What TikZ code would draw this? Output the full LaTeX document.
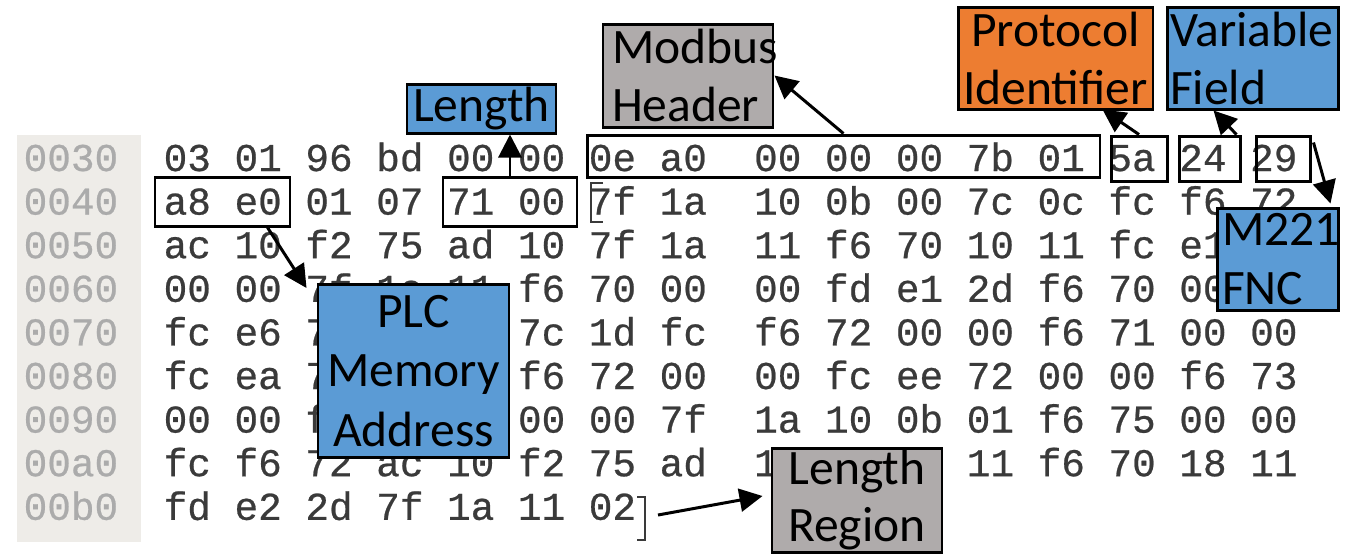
\documentclass[tikz,border=0pt]{standalone}
\usepackage{fontspec}
\usetikzlibrary{positioning,arrows.meta,calc}
\newfontfamily\hexfont[FakeBold=0.6]{Liberation Mono}
\newfontfamily\lblfont{Carlito}
\definecolor{boxblue}{HTML}{5B9BD5}
\definecolor{boxorange}{HTML}{ED7D31}
\definecolor{boxgray}{HTML}{AFABAB}
\definecolor{offsetbg}{HTML}{EEECE8}
\definecolor{hexgray}{HTML}{3A3A3A}
\definecolor{offsetgray}{HTML}{ABABAB}
\tikzset{hex row/.style={anchor=base west,inner sep=0pt,text=hexgray,font=\hexfont\fontsize{11.2}{13}\selectfont},
         offset row/.style={hex row,text=offsetgray},
         byte box/.style={draw,line width=0.85pt,inner sep=0pt},
         label node/.style={draw,line width=0.85pt,inner sep=0pt,text=black,font=\lblfont\fontsize{14.1}{16.5}\selectfont},
         pointer/.style={line width=0.85pt,-{Triangle[length=2.3mm,width=2.3mm]}},
         bracket/.style={line width=0.5pt,draw=hexgray},
            }

\begin{document}
\begin{tikzpicture}[x=0.1mm,y=-0.1mm]
    \path[use as bounding box,fill=white] (0,0) rectangle (1346,556);
    \fill[offsetbg] (17,135) rectangle (141,542);

    % offsets
    \node[offset row] (o30) at (23,171) {0030};
    \node[offset row] (o40) at (23,214.6) {0040};
    \node[offset row] (o50) at (23,258.2) {0050};
    \node[offset row] (o60) at (23,301.8) {0060};
    \node[offset row] (o70) at (23,345.4) {0070};
    \node[offset row] (o80) at (23,389) {0080};
    \node[offset row] (o90) at (23,432.6) {0090};
    \node[offset row] (oa0) at (23,476.2) {00a0};
    \node[offset row] (ob0) at (23,519.8) {00b0};

    % hex bytes
    \node[hex row] (r30) at (163,171) {03 01 96 bd 00 00 0e a0~~00 00 00 7b 01 5a 24 29};
    \node[hex row] (r40) at (163,214.6) {a8 e0 01 07 71 00 7f 1a~~10 0b 00 7c 0c fc f6 72};
    \node[hex row] (r50) at (163,258.2) {ac 10 f2 75 ad 10 7f 1a~~11 f6 70 10 11 fc e1};
    \node[hex row] (r60) at (163,301.8) {00 00 7f 1a 11 f6 70 00~~00 fd e1 2d f6 70 00};
    \node[hex row] (r70) at (163,345.4) {fc e6 7~~~~~~~~7c 1d fc~~f6 72 00 00 f6 71 00 00};
    \node[hex row] (r80) at (163,389) {fc ea 7~~~~~~~~f6 72 00~~00 fc ee 72 00 00 f6 73};
    \node[hex row] (r90) at (163,432.6) {00 00 f~~~~~~~~00 00 7f~~1a 10 0b 01 f6 75 00 00};
    \node[hex row] (ra0) at (163,476.2) {fc f6 72 ac 10 f2 75 ad~~1~~~~~~a 11 f6 70 18 11};
    \node[hex row] (rb0) at (163,519.8) {fd e2 2d 7f 1a 11 02};

    \draw[bracket] (603,183) -- (591,183) -- (591,222) -- (603,222);
    \draw[bracket] (637,497) -- (645,497) -- (645,540) -- (637,540);
    \coordinate (regend) at (658,515);

    % byte groups
    \node[byte box,minimum width=13.5mm,minimum height=4.9mm] (addrbox) at (222.5,201.5) {};
    \node[byte box,minimum width=13.4mm,minimum height=4.9mm] (lenbox) at (510,201.5) {};
    \node[byte box,minimum width=51.3mm,minimum height=4.2mm] (hdrbox) at (843.5,156) {};
    \node[byte box,minimum width=5.6mm,minimum height=4.5mm] (pidbox) at (1139,158.5) {};
    \node[byte box,minimum width=6.1mm,minimum height=4.5mm] (varbox) at (1209.5,158.5) {};
    \node[byte box,minimum width=5.4mm,minimum height=4.5mm] (fncbox) at (1283,158.5) {};

    % labels
    \node[label node,fill=boxblue,minimum width=14.9mm,minimum height=4.9mm] (lenlbl) at (481.5,108.5) {Length};
    \node[label node,fill=boxgray,minimum width=17mm,minimum height=10.3mm,
          text width=15.2mm,align=left] (mbus) at (688,75.5) {Modbus\\Header};
    \node[label node,fill=boxorange,minimum width=19.5mm,minimum height=10.2mm,
          text width=18.7mm,align=center] (proto) at (1055.5,58) {Protocol\\Identifier};
    \node[label node,fill=boxblue,minimum width=17.1mm,minimum height=10.2mm,
          text width=16.5mm,align=left] (varfld) at (1252.5,58) {Variable\\Field};
    \node[label node,fill=boxblue,minimum width=12.1mm,minimum height=10.2mm,
          text width=11.1mm,align=left,font=\lblfont\fontsize{14.1}{17}\selectfont] (m221) at (1277.5,259) {M221\\FNC};
    \node[label node,fill=boxblue,minimum width=19.1mm,minimum height=17.3mm,
          text width=18mm,align=center,font=\lblfont\fontsize{14.1}{17}\selectfont] (plc) at (413.5,371) {PLC\\Memory\\Address};
    \node[label node,fill=boxgray,minimum width=17mm,minimum height=10.4mm,
          text width=16mm,align=center,font=\lblfont\fontsize{14.1}{16.2}\selectfont] (lenreg) at (857,500) {Length\\Region};

    \path[pointer]
    (lenbox.north) edge (lenbox.north |- lenlbl.south)
    (hdrbox.north) edge (mbus.east)
    (pidbox.north) edge ($(proto.south east)+(-52,-1)$)
    ($(varbox.north east)+(-5,0)$) edge ($(varfld.south west)+(48,0)$)
    ($(fncbox.north east)+(2,8)$) edge ($(m221.north east)+(-9,-3)$)
    ($(addrbox.south)+(45,0)$) edge ($(plc.north west)+(-10,5)$)
    (regend) edge ($(lenreg.west)+(-8,-4)$);
\end{tikzpicture}
\end{document}
